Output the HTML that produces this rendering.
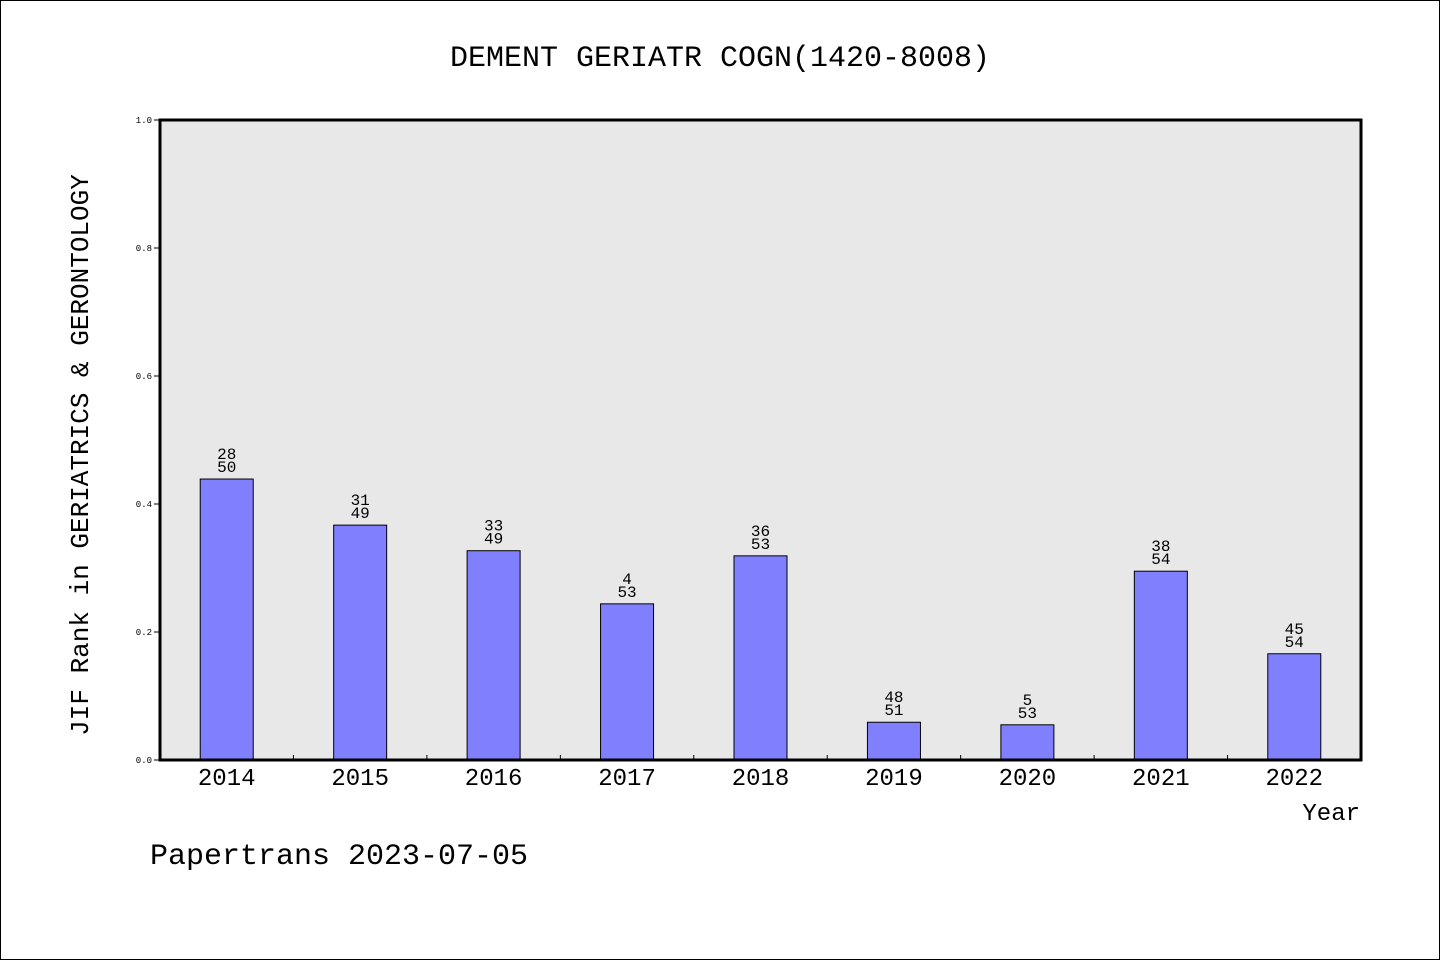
<!DOCTYPE html>
<html><head><meta charset="utf-8"><style>
body{margin:0;background:#fff}
svg{display:block}
text{font-family:"WenQuanYi Zen Hei","Liberation Mono",monospace;fill:#000}
</style></head><body>
<svg id="c" width="1440" height="960" xmlns="http://www.w3.org/2000/svg">
<rect x="0.5" y="0.5" width="1439" height="959" fill="#fff" stroke="#000"/>
<text x="720" y="66" font-size="30" text-anchor="middle">DEMENT GERIATR COGN(1420-8008)</text>
<rect x="160" y="120" width="1201" height="640" fill="#e8e8e8"/>
<g id="marks"></g>
<rect x="160" y="120" width="1201" height="640" fill="none" stroke="#000" stroke-width="3"/>
<text transform="translate(88,455) rotate(-90)" font-size="26" text-anchor="middle">JIF Rank in GERIATRICS &amp; GERONTOLOGY</text>
<text x="1360" y="820" font-size="24" text-anchor="end">Year</text>
<text x="150" y="864" font-size="30">Papertrans 2023-07-05</text>
</svg>
<script>
const years=["2014","2015","2016","2017","2018","2019","2020","2021","2022"];
const values=[0.439,0.367,0.327,0.244,0.319,0.059,0.055,0.295,0.166];
const ranks=["28","31","33","4","36","48","5","38","45"];
const totals=["50","49","49","53","53","51","53","54","54"];
const yTicks=["0.0","0.2","0.4","0.6","0.8","1.0"];
const L=160,T=120,W=1201,H=640;
const ns="http://www.w3.org/2000/svg";
const g=document.getElementById('marks');
const step=W/years.length;
const xs=i=>L+step*(i+0.5);
const ys=v=>T+H-v*H;
function mk(t,a){const e=document.createElementNS(ns,t);for(const k in a)e.setAttribute(k,a[k]);g.appendChild(e);return e;}
yTicks.forEach(t=>{const y=ys(parseFloat(t));
const l=mk('line',{x1:L-6,x2:L,y1:y,y2:y,stroke:'#000'});


const tx=mk('text',{x:L-8,y:y+3,'font-size':9,'text-anchor':'end'});tx.textContent=t;

});
for(let i=1;i<years.length;i++){const x=L+step*i;
const l=mk('line',{x1:x,x2:x,y1:T+H-5,y2:T+H,stroke:'#000'});

}
years.forEach((yr,i)=>{const cx=xs(i),top=ys(values[i]);
const r=mk('rect',{x:cx-26.5,y:top,width:53,height:T+H-top,fill:'#8080ff',stroke:'#000','stroke-width':1});


const a=mk('text',{x:cx,y:top-20,'font-size':16,'text-anchor':'middle'});a.textContent=ranks[i];


const b=mk('text',{x:cx,y:top-7,'font-size':16,'text-anchor':'middle'});b.textContent=totals[i];


const xl=mk('text',{x:cx,y:T+H+25,'font-size':24,'text-anchor':'middle'});xl.textContent=yr;

});
</script>
</body></html>
